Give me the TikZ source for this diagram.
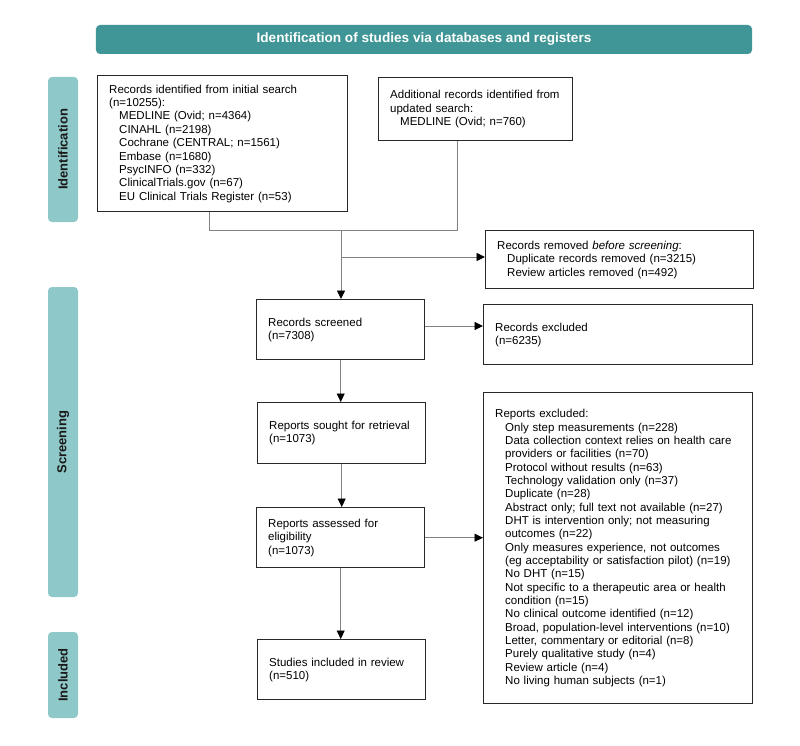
\documentclass[tikz,border=0pt]{standalone}
\usepackage{fontspec}
\setmainfont{Liberation Sans}
\usetikzlibrary{arrows.meta,calc}
\definecolor{bannerteal}{RGB}{64,150,150}
\definecolor{barteal}{RGB}{143,200,200}
\definecolor{boxline}{RGB}{40,40,40}
\definecolor{connline}{RGB}{130,130,130}
\newcommand{\ind}{\hspace*{10bp}}
\tikzset{
  x=1bp, y=-1bp,
  banner/.style={fill=bannerteal, rounded corners=4bp, text=white,
    font=\fontsize{13.6bp}{16bp}\selectfont\bfseries, inner sep=0pt,
    minimum width=656bp, minimum height=29bp},
  phase/.style={fill=barteal, rounded corners=4bp, rotate=90, text=black!90,
    font=\fontsize{13bp}{15bp}\selectfont\bfseries, inner sep=0pt, minimum height=30bp},
  fbox/.style={draw=boxline, line width=1.4bp, align=left, anchor=north west,
    inner xsep=11.5bp, inner ysep=0pt,
    font=\fontsize{11.5bp}{13.35bp}\selectfont},
  conn/.style={draw=connline, line width=0.9bp},
  arr/.style={conn, -{Triangle[length=8.5bp,width=8bp,color=black]}},
}
\begin{document}
\begin{tikzpicture}
\useasboundingbox (0,0) rectangle (800,746);
\fill[white] (0,0) rectangle (800,746);

\node[banner] (banner) at (424,39.5) {Identification of studies via databases and registers};

\node[phase, minimum width=145bp] (pid) at (63,149.5) {Identification};
\node[phase, minimum width=310bp] (pscr) at (63,442) {Screening};
\node[phase, minimum width=86bp] (pinc) at (63,675) {Included};

\node[fbox, text width=227bp, minimum height=136bp] (init) at (97,75)
{Records identified from initial search\\
(n=10255):\\
\ind MEDLINE (Ovid; n=4364)\\
\ind CINAHL (n=2198)\\
\ind Cochrane (CENTRAL; n=1561)\\
\ind Embase (n=1680)\\
\ind PsycINFO (n=332)\\
\ind ClinicalTrials.gov (n=67)\\
\ind EU Clinical Trials Register (n=53)};

\node[fbox, text width=171bp, minimum height=63bp] (upd) at (378,77)
{Additional records identified from\\
updated search:\\
\ind MEDLINE (Ovid; n=760)};

\node[fbox, text width=245bp, minimum height=58bp] (removed) at (485,230)
{Records removed \textit{before screening}:\\
\ind Duplicate records removed (n=3215)\\
\ind Review articles removed (n=492)};

\node[fbox, text width=145bp, minimum height=60bp] (screened) at (256,299)
{Records screened\\(n=7308)};

\node[fbox, text width=246bp, minimum height=60bp] (excluded) at (483,304)
{Records excluded\\(n=6235)};

\node[fbox, text width=145bp, minimum height=61bp] (sought) at (257,402)
{Reports sought for retrieval\\(n=1073)};

\node[fbox, text width=145bp, minimum height=60bp] (assessed) at (256,507)
{Reports assessed for\\eligibility\\(n=1073)};

\node[fbox, text width=145bp, minimum height=60bp] (included) at (257,639)
{Studies included in review\\(n=510)};

\node[fbox, text width=246bp, minimum height=311bp] (repexcl) at (483,392)
{Reports excluded:\\
\ind Only step measurements (n=228)\\
\ind Data collection context relies on health care\\
\ind providers or facilities (n=70)\\
\ind Protocol without results (n=63)\\
\ind Technology validation only (n=37)\\
\ind Duplicate (n=28)\\
\ind Abstract only; full text not available (n=27)\\
\ind DHT is intervention only; not measuring\\
\ind outcomes (n=22)\\
\ind Only measures experience, not outcomes\\
\ind (eg acceptability or satisfaction pilot) (n=19)\\
\ind No DHT (n=15)\\
\ind Not specific to a therapeutic area or health\\
\ind condition (n=15)\\
\ind No clinical outcome identified (n=12)\\
\ind Broad, population-level interventions (n=10)\\
\ind Letter, commentary or editorial (n=8)\\
\ind Purely qualitative study (n=4)\\
\ind Review article (n=4)\\
\ind No living human subjects (n=1)};

\coordinate (j1) at (209,230);
\coordinate (j2) at (457,230);
\coordinate (jm) at (341,230);
\coordinate (jb) at (341,257);

\draw[conn] (init.south -| j1) -- (j1) -- (j2) -- (upd.south -| j2);
\draw[arr] (jm) -- (jm |- screened.north);
\draw[arr] (jb) -- (removed.west |- jb);
\draw[arr] (screened.east |- 0,326) -- (excluded.west |- 0,326);
\draw[arr] (screened.south) -- (sought.north -| screened.south);
\draw[arr] (sought.south) -- (assessed.north -| sought.south);
\draw[arr] (assessed.east) -- (repexcl.west |- assessed.east);
\draw[arr] (assessed.south) -- (included.north -| assessed.south);
\end{tikzpicture}
\end{document}
